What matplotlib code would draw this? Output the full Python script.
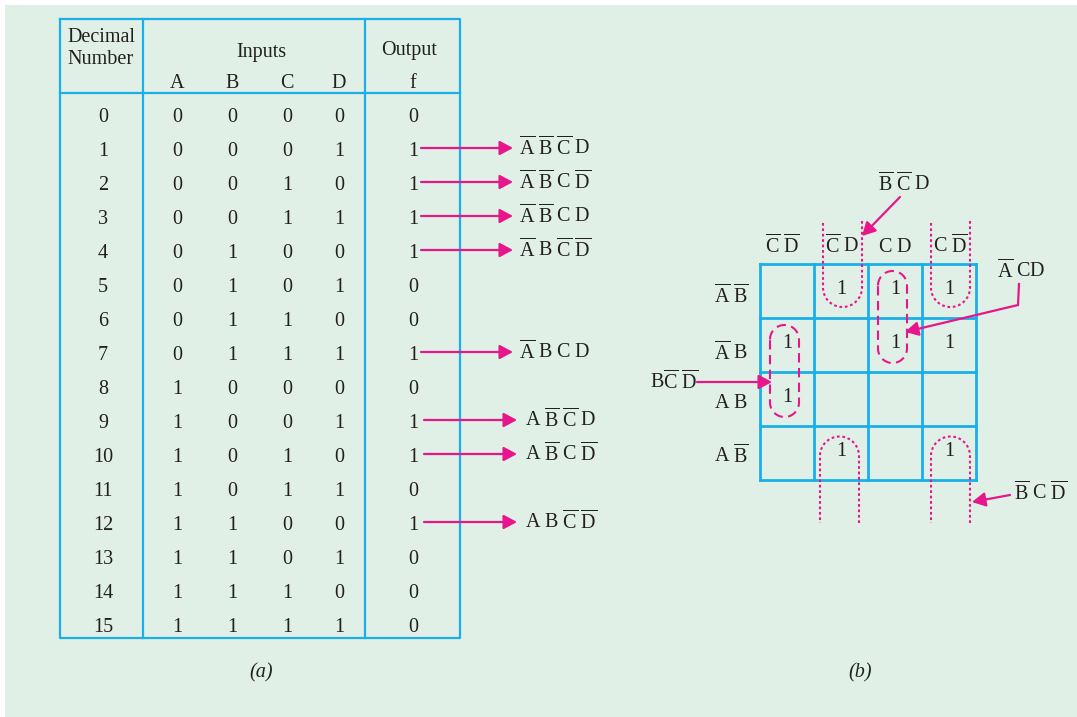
import numpy as np
import matplotlib.pyplot as plt
from matplotlib.patches import FancyArrowPatch, Rectangle

plt.rcParams['mathtext.fontset'] = 'custom'
plt.rcParams['mathtext.rm'] = 'Liberation Serif'
plt.rcParams['mathtext.it'] = 'Liberation Serif:italic'
plt.rcParams['font.family'] = ['Liberation Serif', 'DejaVu Serif']

# ---------------- data ----------------
decimal = list(range(16))
bit_A = [0, 0, 0, 0, 0, 0, 0, 0, 1, 1, 1, 1, 1, 1, 1, 1]
bit_B = [0, 0, 0, 0, 1, 1, 1, 1, 0, 0, 0, 0, 1, 1, 1, 1]
bit_C = [0, 0, 1, 1, 0, 0, 1, 1, 0, 0, 1, 1, 0, 0, 1, 1]
bit_D = [0, 1, 0, 1, 0, 1, 0, 1, 0, 1, 0, 1, 0, 1, 0, 1]
out_f = [0, 1, 1, 1, 1, 0, 0, 1, 0, 1, 1, 0, 1, 0, 0, 0]
var_names = ['A', 'B', 'C', 'D']

kmap_row_labels = [r'$\overline{\mathrm{A}}\ \overline{\mathrm{B}}$', r'$\overline{\mathrm{A}}\ \mathrm{B}$',
                   r'$\mathrm{A}\ \mathrm{B}$', r'$\mathrm{A}\ \overline{\mathrm{B}}$']
kmap_col_labels = [r'$\overline{\mathrm{C}}\ \overline{\mathrm{D}}$', r'$\overline{\mathrm{C}}\ \mathrm{D}$',
                   r'$\mathrm{C}\ \mathrm{D}$', r'$\mathrm{C}\ \overline{\mathrm{D}}$']
kmap_vals = [[0, 1, 1, 1],
             [1, 0, 1, 1],
             [1, 0, 0, 0],
             [0, 1, 0, 1]]
top_u_cols = [1, 3]        # wrap-around groups (top side)
bottom_u_cols = [1, 3]     # wrap-around groups (bottom side)
pill_groups = [(2, 0, 1), (0, 1, 2)]   # (col, row_start, row_end)
group_labels = [r'$\overline{\mathrm{B}}\ \overline{\mathrm{C}}\ \mathrm{D}$',
                r'$\overline{\mathrm{A}}\ \mathrm{CD}$',
                r'$\mathrm{B}\overline{\mathrm{C}}\ \overline{\mathrm{D}}$',
                r'$\overline{\mathrm{B}}\ \mathrm{C}\ \overline{\mathrm{D}}$']

# ---------------- style ----------------
BG = '#e1f0e6'
BLUE = '#1aafe8'
MAG = '#e8168b'
TXT = '#231f20'
FS = 14.5

fig = plt.figure(figsize=(10.77, 7.17), dpi=100, facecolor='white')
ax = fig.add_axes([0, 0, 1, 1])
ax.set_xlim(0, 1077)
ax.set_ylim(717, 0)
ax.axis('off')
ax.add_patch(Rectangle((5, 5), 1077, 717, facecolor=BG, edgecolor='none', zorder=0))


def txt(x, y, s, **kw):
    kw.setdefault('ha', 'center')
    ax.text(x, y + 6.5, s, va='baseline', fontsize=kw.pop('fs', FS), color=TXT, **kw)


def arrow(p0, p1, lw=1.6):
    a = FancyArrowPatch(p0, p1, arrowstyle='-|>,head_length=8,head_width=4.3',
                        mutation_scale=1, color=MAG, lw=lw, shrinkA=0, shrinkB=0, zorder=5)
    ax.add_patch(a)


def term(bits):
    parts = []
    for n, b in zip(var_names, bits):
        parts.append(r'\mathrm{%s}' % n if b else r'\overline{\mathrm{%s}}' % n)
    return '$' + r'\ '.join(parts) + '$'


# ---------------- truth table (a) ----------------
L, R, T, Bt = 60, 460, 19, 638
xs_div = [143, 365]
y_head = 93
lw_t = 1.6
ax.plot([L, R, R, L, L], [T, T, Bt, Bt, T], color=BLUE, lw=lw_t, zorder=3)
for xv in xs_div:
    ax.plot([xv, xv], [T, Bt], color=BLUE, lw=lw_t, zorder=3)
ax.plot([L, R], [y_head, y_head], color=BLUE, lw=lw_t, zorder=3)

txt(101, 36, 'Decimal')
txt(101, 58, 'Number')
txt(261, 50, 'Inputs')
txt(409, 48, 'Output')
col_x = [177, 232, 287, 339]
for cx, n in zip(col_x, var_names):
    txt(cx, 81, n)
txt(413, 81, 'f')

row_y0, row_dy = 115, 34
for i in range(16):
    y = row_y0 + row_dy * i
    txt(103, y, str(decimal[i]))
    for cx, v in zip(col_x, (bit_A[i], bit_B[i], bit_C[i], bit_D[i])):
        txt(cx, y, str(v))
    txt(413, y, str(out_f[i]))
    if out_f[i] == 1:
        if bit_A[i] == 0:
            x0, x1, xt = 421, 513, 519
        else:
            x0, x1, xt = 424, 517, 525
        arrow((x0, y - 1), (x1, y - 1))
        txt(xt, y - 1, term((bit_A[i], bit_B[i], bit_C[i], bit_D[i])), ha='left')

ax.text(261, 673, '(a)', fontsize=FS, color=TXT, ha='center', va='center', style='italic')

# ---------------- K-map (b) ----------------
gx0, gy0, cell = 760, 264, 54
for k in range(5):
    ax.plot([gx0 + k * cell] * 2, [gy0, gy0 + 4 * cell], color=BLUE, lw=2.0, zorder=3)
    ax.plot([gx0, gx0 + 4 * cell], [gy0 + k * cell] * 2, color=BLUE, lw=2.0, zorder=3)

col_lab_x = [782, 842, 895, 950]
for cx, s in zip(col_lab_x, kmap_col_labels):
    txt(cx, 246, s)
row_lab_y = [296, 353, 401, 456]
for ry, s in zip(row_lab_y, kmap_row_labels):
    txt(731, ry, s)

for r in range(4):
    for c in range(4):
        if kmap_vals[r][c]:
            cx = gx0 + (c + 0.5) * cell
            cy = gy0 + (r + 0.5) * cell
            txt(cx, cy - 3, '1')

dot = (0, (1.3, 1.3))
dash = (0, (4.5, 2.6))
r_u = 19.5
for c in top_u_cols:
    cx = gx0 + (c + 0.5) * cell + 1.5
    yc = 287.5
    th = np.linspace(0, np.pi, 60)
    xs = np.concatenate([[cx + r_u, cx + r_u], cx + r_u * np.cos(th), [cx - r_u, cx - r_u]])
    ys = np.concatenate([[221, yc], yc + r_u * np.sin(th), [yc, 221]])
    ax.plot(xs, ys, color=MAG, lw=1.5, ls=dot, zorder=4)
for c in bottom_u_cols:
    cx = gx0 + (c + 0.5) * cell + 1.5 * (1 if c == 3 else -1)
    yc = 456
    th = np.linspace(0, np.pi, 60)
    xs = np.concatenate([[cx + r_u, cx + r_u], cx + r_u * np.cos(th), [cx - r_u, cx - r_u]])
    ys = np.concatenate([[523, yc], yc - r_u * np.sin(th), [yc, 523]])
    ax.plot(xs, ys, color=MAG, lw=1.5, ls=dot, zorder=4)

r_p = 14.5
for c, r0, r1 in pill_groups:
    cx = gx0 + (c + 0.5) * cell - 2.5
    ytop = gy0 + (r0 + 0.5) * cell - 20 + r_p
    ybot = gy0 + (r1 + 0.5) * cell + 18 - r_p
    th1 = np.linspace(np.pi, 2 * np.pi, 40)
    th2 = np.linspace(0, np.pi, 40)
    xs = np.concatenate([cx + r_p * np.cos(th1), cx + r_p * np.cos(th2), [cx - r_p]])
    ys = np.concatenate([ytop + r_p * np.sin(th1), ybot + r_p * np.sin(th2), [ytop]])
    ax.plot(xs, ys, color=MAG, lw=1.5, ls=dash, zorder=4)

# group annotations
txt(904, 184, group_labels[0])
arrow((900, 197), (862, 236))
txt(1021, 271, group_labels[1])
ax.plot([1019, 1018], [284, 305], color=MAG, lw=1.6, zorder=5)
arrow((1018, 305), (905, 332))
txt(674, 382, group_labels[2])
arrow((697, 382), (772, 382))
txt(1041, 493, group_labels[3])
arrow((1010, 495), (972, 502))

ax.text(860, 673, '(b)', fontsize=FS, color=TXT, ha='center', va='center', style='italic')

fig.savefig('out.png', dpi=100, facecolor=fig.get_facecolor())
